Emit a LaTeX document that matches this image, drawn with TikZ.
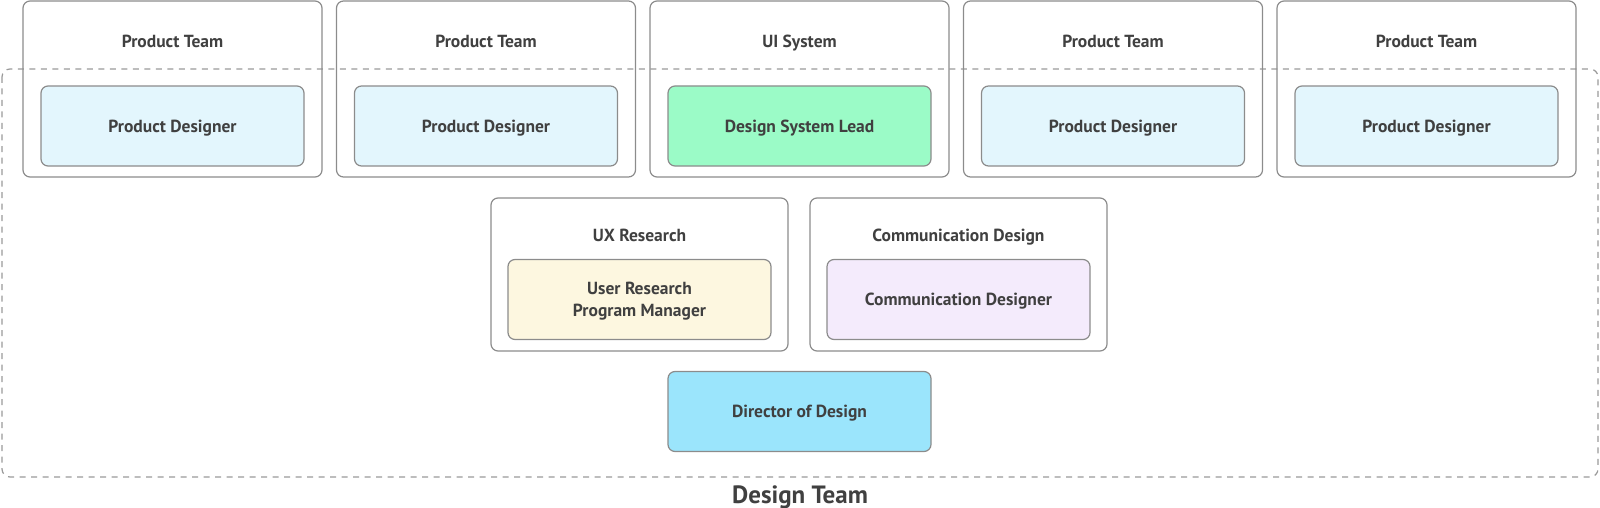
\documentclass[tikz,border=0pt]{standalone}
\usepackage{fontspec}
\setmainfont{PT Sans}
\usetikzlibrary{positioning}

\definecolor{edgegray}{HTML}{8C8C8C}
\definecolor{dashgray}{HTML}{9A9A9A}
\definecolor{inkgray}{HTML}{404040}
\definecolor{designblue}{HTML}{E3F6FD}
\definecolor{leadgreen}{HTML}{9BFBC7}
\definecolor{researchyellow}{HTML}{FDF7E0}
\definecolor{commlilac}{HTML}{F4EBFC}
\definecolor{directorblue}{HTML}{9BE5FC}

\tikzset{
  team/.style={draw=edgegray, line width=1.2pt, rounded corners=7pt, minimum width=299pt, minimum height=176pt},
  midteam/.style={team, minimum width=297pt, minimum height=153pt},
  role/.style={draw=edgegray, line width=1.2pt, rounded corners=7pt, minimum width=263pt, minimum height=80pt,
    align=center, text=inkgray, text depth=0pt, font=\fontsize{17.5}{21.5}\selectfont\bfseries},
  heading/.style={text=inkgray, text depth=0pt, font=\fontsize{17.5}{20}\selectfont\bfseries},
}

\begin{document}
\begin{tikzpicture}[x=1pt, y=-1pt]
  \useasboundingbox (0, 0) rectangle (1600, 508);
  % outer group
  \draw [dashgray, line width=1.2pt, dash pattern=on 6pt off 5.5pt, rounded corners=8pt]
    (2, 69) rectangle (1598, 477);
  \node [text=inkgray, font=\fontsize{25}{28}\selectfont\bfseries] (groupname) at (800, 497) {Design Team};
  % top row
  \foreach \i/\tname/\rname/\col in {1/Product Team/Product Designer/designblue,
      2/Product Team/Product Designer/designblue, 3/UI System/Design System Lead/leadgreen,
      4/Product Team/Product Designer/designblue, 5/Product Team/Product Designer/designblue} {
    \node [team] (team\i) at ({172.5 + 313.5*(\i - 1)}, 89) {};
    \node [heading] (title\i) at ({172.5 + 313.5*(\i - 1)}, 41) {\tname};
    \node [role, fill=\col] (role\i) at ({172.5 + 313.5*(\i - 1)}, 126) {\rname};
  }
  % middle row
  \node [midteam] (uxteam) at (639.5, 274.5) {};
  \node [heading] (uxtitle) at (639.5, 235) {UX Research};
  \node [role, fill=researchyellow] (uxrole) at (639.5, 299.5) {User Research\\Program Manager};
  \node [midteam] (commteam) at (958.5, 274.5) {};
  \node [heading] (commtitle) at (958.5, 235) {Communication Design};
  \node [role, fill=commlilac] (commrole) at (958.5, 299.5) {Communication Designer};
  % bottom
  \node [role, fill=directorblue] (director) at (799.5, 411.5) {Director of Design};
\end{tikzpicture}
\end{document}
